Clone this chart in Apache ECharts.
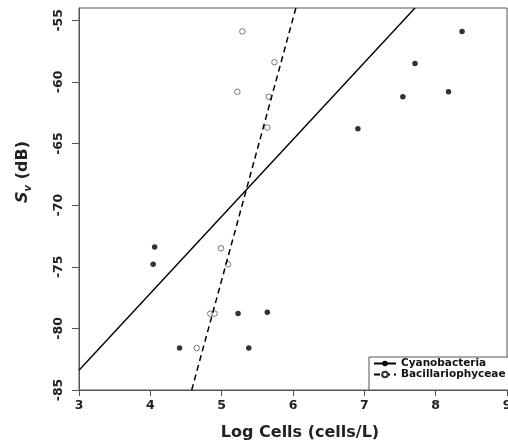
<!DOCTYPE html>
<html>
<head>
<meta charset="utf-8">
<script src="https://cdn.jsdelivr.net/npm/echarts@6/dist/echarts.min.js"></script>
<style>
  html, body { margin: 0; padding: 0; background: #fff; }
  #chart { width: 508px; height: 445px; }
</style>
</head>
<body>
<div id="chart"></div>
<script>
// Log cells (x) and Sv in dB (y)
var cyanoX = [4.06, 4.04, 4.41, 5.23, 5.64, 5.38, 6.91, 7.54, 7.71, 8.18, 8.37];
var cyanoY = [-73.4, -74.8, -81.6, -78.8, -78.7, -81.6, -63.8, -61.2, -58.5, -60.8, -55.9];
var bacilX = [5.29, 5.74, 5.22, 5.66, 5.64, 4.99, 5.09, 4.84, 4.90, 4.65];
var bacilY = [-55.9, -58.4, -60.8, -61.2, -63.7, -73.5, -74.8, -78.8, -78.8, -81.6];
// ends of the two fitted lines
var cyanoFitX = [3, 7.71];
var cyanoFitY = [-83.4, -54.0];
var bacilFitX = [4.58, 6.04];
var bacilFitY = [-85, -54.0];
var xTicks = [3, 4, 5, 6, 7, 8, 9];
var yTicks = [-85, -80, -75, -70, -65, -60, -55];

function pairs(xs, ys) {
  var out = [];
  for (var i = 0; i < xs.length; i++) out.push([xs[i], ys[i]]);
  return out;
}

var font = 'DejaVu Sans';
var chart = echarts.init(document.getElementById('chart'));
chart.setOption({
  animation: false,
  grid: {
    left: 79, right: 1, top: 8, bottom: 55,
    outerBoundsMode: 'none', containLabel: false,
    show: true, borderColor: '#555', borderWidth: 1
  },
  legend: {
    data: ['Cyanobacteria', 'Bacillariophyceae'],
    orient: 'vertical',
    left: 369, top: 357,
    padding: [1, 6, 10, 4],
    itemWidth: 22, itemHeight: 7, itemGap: 0,
    borderColor: '#555', borderWidth: 1,
    backgroundColor: '#fff',
    textStyle: { fontFamily: font, fontWeight: 'bold', fontSize: 10.5, lineHeight: 11, color: '#111' }
  },
  xAxis: {
    type: 'value', min: 3, max: 9, interval: 1,
    name: 'Log Cells (cells/L)', nameLocation: 'middle', nameGap: 35,
    nameTextStyle: { fontFamily: font, fontWeight: 'bold', fontSize: 16, color: '#222', padding: [0, 0, 0, 14] },
    axisLine: { lineStyle: { color: '#555' } },
    axisTick: { length: 6, lineStyle: { color: '#555' } },
    axisLabel: { margin: 9, fontFamily: font, fontWeight: 'bold', fontSize: 12.5, color: '#222', customValues: xTicks },
    splitLine: { show: false }
  },
  yAxis: {
    type: 'value', min: -85, max: -54, interval: 5,
    name: '{i|S}{sub|v}{n| (dB)}', nameLocation: 'middle', nameGap: 46,
    nameTextStyle: {
      padding: [0, 0, 0, 54],
      rich: {
        i: { fontFamily: font, fontWeight: 'bold', fontStyle: 'italic', fontSize: 16, color: '#222', lineHeight: 20 },
        sub: { fontFamily: font, fontWeight: 'bold', fontStyle: 'italic', fontSize: 10, color: '#222', lineHeight: 20, verticalAlign: 'bottom' },
        n: { fontFamily: font, fontWeight: 'bold', fontSize: 16, color: '#222', lineHeight: 20 }
      }
    },
    axisLine: { show: true, lineStyle: { color: '#555' } },
    axisTick: { show: true, length: 7, lineStyle: { color: '#555' }, customValues: yTicks },
    axisLabel: { rotate: 90, margin: 14, fontFamily: font, fontWeight: 'bold', fontSize: 12.5, color: '#222', customValues: yTicks },
    splitLine: { show: false }
  },
  series: [
    {
      name: 'Cyanobacteria', type: 'line', data: pairs(cyanoFitX, cyanoFitY),
      symbol: 'circle', showSymbol: false, silent: true, clip: true,
      itemStyle: { color: '#000' },
      lineStyle: { color: '#000', width: 1.4 }
    },
    {
      name: 'Bacillariophyceae', type: 'line', data: pairs(bacilFitX, bacilFitY),
      symbol: 'circle', showSymbol: false, silent: true, clip: true,
      itemStyle: { color: '#fff', borderColor: '#333', borderWidth: 1 },
      lineStyle: { color: '#000', width: 1.5, type: [6, 4] }
    },
    {
      name: 'Cyanobacteria', type: 'scatter', data: pairs(cyanoX, cyanoY),
      symbol: 'circle', symbolSize: 5.5, silent: true,
      itemStyle: { color: '#000' }
    },
    {
      name: 'Bacillariophyceae', type: 'scatter', data: pairs(bacilX, bacilY),
      symbol: 'circle', symbolSize: 5.5, silent: true,
      itemStyle: { color: '#fff', borderColor: '#444', borderWidth: 0.9 }
    }
  ]
});
window.addEventListener('resize', function () { chart.resize(); });
</script>
</body>
</html>
